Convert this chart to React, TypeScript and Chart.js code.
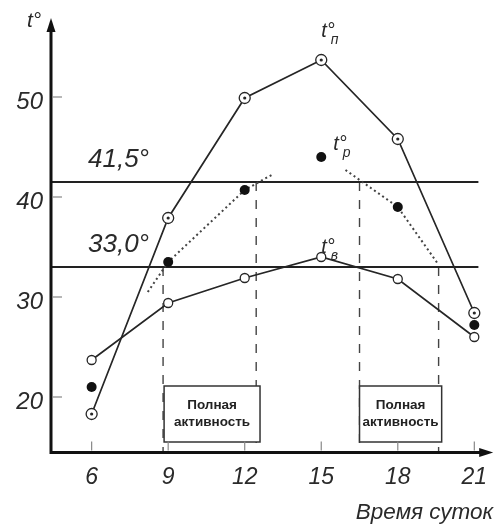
import React, { useEffect, useRef } from 'react';
import { Chart, registerables } from 'chart.js';

Chart.register(...registerables);

// Time of day (hours)
const hours = [6, 9, 12, 15, 18, 21];
// Surface temperature t°п
const tSurface = [18.3, 37.9, 49.9, 53.7, 45.8, 28.4];
// Air temperature t°в
const tAir = [23.7, 29.4, 31.9, 34.0, 31.8, 26.0];
// Body temperature t°р
const tBody = [21.0, 33.5, 40.7, 44.0, 39.0, 27.2];

// Dotted trend of t°р (rising and falling branches)
const trendRiseX = [8.2, 9, 12, 13.05];
const trendRiseY = [30.5, 33.5, 40.7, 42.2];
const trendFallX = [15.95, 18, 19.55];
const trendFallY = [42.7, 39.0, 33.4];

// Threshold temperatures
const thresholds = [41.5, 33.0];
const thresholdLabels = ['41,5°', '33,0°'];

// Vertical dashed markers (x, and threshold they start from)
const markerX = [8.8, 12.45, 16.5, 19.6];
const markerTop = [33.0, 41.5, 41.5, 33.0];

// Activity windows
const activityStart = [8.84, 16.5];
const activityEnd = [12.6, 19.72];
const activityText = ['Полная', 'активность'];

const xTicks = [6, 9, 12, 15, 18, 21];
const yTicks = [20, 30, 40, 50];
const xTitle = 'Время суток';
const yTitle = 't°';

const X_MIN = 4.407;
const X_MAX = 21.74;
const Y_MIN = 14.45;
const Y_MAX = 57.9;
const LINE_END = 21.16;
const BOX_TOP = 21.1;
const BOX_BOTTOM = 15.5;

const FONT = '"Liberation Sans", Arial, sans-serif';
const INK = '#262626';

export default function App() {
  const ref = useRef<HTMLCanvasElement>(null);

  useEffect(() => {
    const canvas = ref.current;
    if (!canvas) return;
    const pts = (xs: number[], ys: number[]) => xs.map((x, i) => ({ x, y: ys[i] }));

    const datasets: any[] = [
      {
        label: 'tSurfaceDots',
        data: pts(hours, tSurface),
        showLine: false,
        pointRadius: 1.6,
        pointBackgroundColor: INK,
        pointBorderWidth: 0,
      },
      {
        label: 'tBody',
        data: pts(hours, tBody),
        showLine: false,
        pointRadius: 5,
        pointBackgroundColor: '#111',
        pointBorderColor: '#111',
        pointBorderWidth: 0,
      },
      {
        label: 'tSurface',
        data: pts(hours, tSurface),
        borderColor: INK,
        borderWidth: 1.7,
        pointRadius: 5.5,
        pointBackgroundColor: '#fff',
        pointBorderColor: INK,
        pointBorderWidth: 1.3,
      },
      {
        label: 'tAir',
        data: pts(hours, tAir),
        borderColor: INK,
        borderWidth: 1.7,
        pointRadius: 4.5,
        pointBackgroundColor: '#fff',
        pointBorderColor: INK,
        pointBorderWidth: 1.3,
      },
      {
        label: 'trendRise',
        data: pts(trendRiseX, trendRiseY),
        borderColor: '#444',
        borderWidth: 2,
        borderDash: [2, 3],
        pointRadius: 0,
      },
      {
        label: 'trendFall',
        data: pts(trendFallX, trendFallY),
        borderColor: '#444',
        borderWidth: 2,
        borderDash: [2, 3],
        pointRadius: 0,
      },
      ...thresholds.map((t, i) => ({
        label: 'threshold' + i,
        data: [
          { x: X_MIN, y: t },
          { x: LINE_END, y: t },
        ],
        borderColor: '#222',
        borderWidth: 2,
        pointRadius: 0,
      })),
      ...markerX.map((mx, i) => ({
        label: 'marker' + i,
        data: [
          { x: mx, y: markerTop[i] },
          { x: mx, y: Y_MIN },
        ],
        borderColor: '#444',
        borderWidth: 1.4,
        borderDash: [9, 9],
        pointRadius: 0,
      })),
    ];

    const decor = {
      id: 'decor',
      afterDraw(chart: any) {
        const ctx = chart.ctx as CanvasRenderingContext2D;
        const xs = chart.scales.x;
        const ys = chart.scales.y;
        const ax = xs.getPixelForValue(X_MIN);
        const ay = ys.getPixelForValue(Y_MIN);
        const topY = ys.getPixelForValue(Y_MAX);
        const rightX = xs.getPixelForValue(X_MAX);
        ctx.save();

        // activity boxes
        activityStart.forEach((s, i) => {
          const x0 = xs.getPixelForValue(s);
          const x1 = xs.getPixelForValue(activityEnd[i]);
          const y0 = ys.getPixelForValue(BOX_TOP);
          const y1 = ys.getPixelForValue(BOX_BOTTOM);
          ctx.fillStyle = '#fff';
          ctx.fillRect(x0, y0, x1 - x0, y1 - y0);
          ctx.strokeStyle = '#333';
          ctx.lineWidth = 1.5;
          ctx.strokeRect(x0, y0, x1 - x0, y1 - y0);
          ctx.fillStyle = '#222';
          ctx.font = 'bold 13.5px ' + FONT;
          ctx.textAlign = 'center';
          ctx.textBaseline = 'alphabetic';
          const cx = (x0 + x1) / 2;
          ctx.fillText(activityText[0], cx, y0 + 23);
          ctx.fillText(activityText[1], cx, y0 + 40);
        });

        // tick marks
        ctx.strokeStyle = '#888';
        ctx.lineWidth = 1.2;
        yTicks.forEach((v) => {
          const y = ys.getPixelForValue(v);
          ctx.beginPath();
          ctx.moveTo(ax + 2, y);
          ctx.lineTo(ax + 11, y);
          ctx.stroke();
        });
        xTicks.forEach((v) => {
          const x = xs.getPixelForValue(v);
          ctx.beginPath();
          ctx.moveTo(x, ay - 2);
          ctx.lineTo(x, ay - 11);
          ctx.stroke();
        });

        // axes
        ctx.strokeStyle = '#111';
        ctx.fillStyle = '#111';
        ctx.lineWidth = 3;
        ctx.beginPath();
        ctx.moveTo(ax, ay + 1.5);
        ctx.lineTo(ax, topY + 12);
        ctx.moveTo(ax - 1.5, ay);
        ctx.lineTo(rightX - 12, ay);
        ctx.stroke();
        ctx.beginPath();
        ctx.moveTo(ax, topY);
        ctx.lineTo(ax - 4.5, topY + 14);
        ctx.lineTo(ax + 4.5, topY + 14);
        ctx.closePath();
        ctx.fill();
        ctx.beginPath();
        ctx.moveTo(rightX, ay);
        ctx.lineTo(rightX - 14, ay - 4.5);
        ctx.lineTo(rightX - 14, ay + 4.5);
        ctx.closePath();
        ctx.fill();

        // tick labels
        ctx.fillStyle = '#2a2a2a';
        ctx.font = 'italic 24px ' + FONT;
        ctx.textAlign = 'right';
        ctx.textBaseline = 'middle';
        yTicks.forEach((v) => {
          ctx.fillText(String(v), ax - 8, ys.getPixelForValue(v) + 5);
        });
        ctx.font = 'italic 23px ' + FONT;
        ctx.textAlign = 'center';
        xTicks.forEach((v) => {
          ctx.fillText(String(v), xs.getPixelForValue(v), ay + 25);
        });

        // axis titles
        ctx.font = 'italic 22.5px ' + FONT;
        ctx.textAlign = 'right';
        ctx.textBaseline = 'alphabetic';
        ctx.fillText(xTitle, rightX, ay + 66);
        ctx.textAlign = 'left';
        ctx.font = 'italic 21px ' + FONT;
        ctx.fillText(yTitle, ax - 24, topY + 9);

        // threshold labels
        ctx.font = 'italic 26px ' + FONT;
        ctx.textAlign = 'left';
        thresholds.forEach((t, i) => {
          ctx.fillText(thresholdLabels[i], ax + 37, ys.getPixelForValue(t) - 15);
        });

        // series labels
        const seriesLabel = (x: number, y: number, sub: string) => {
          ctx.font = 'italic 20px ' + FONT;
          ctx.textAlign = 'left';
          ctx.fillText('t°', x, y);
          const w = ctx.measureText('t°').width;
          ctx.font = 'italic 14px ' + FONT;
          ctx.fillText(sub, x + w - 4, y + 7);
        };
        const px = (v: number) => xs.getPixelForValue(v);
        const py = (v: number) => ys.getPixelForValue(v);
        seriesLabel(px(hours[3]), py(tSurface[3]) - 23, 'п');
        seriesLabel(px(hours[3]) + 12, py(tBody[3]) - 7, 'р');
        seriesLabel(px(hours[3]), py(tAir[3]) - 4, 'в');

        ctx.restore();
      },
    };

    const chart = new Chart(canvas, {
      type: 'line',
      data: { datasets },
      options: {
        responsive: false,
        animation: false,
        events: [],
        layout: { padding: { left: 51, right: 3, top: 18, bottom: 71.5 } },
        elements: { line: { tension: 0 } },
        plugins: { legend: { display: false }, tooltip: { enabled: false } },
        scales: {
          x: { type: 'linear', min: X_MIN, max: X_MAX, display: false },
          y: { type: 'linear', min: Y_MIN, max: Y_MAX, display: false },
        },
      },
      plugins: [decor],
    });
    return () => chart.destroy();
  }, []);

  return (
    <div style={{ position: 'fixed', left: 0, top: 0, width: 500, height: 524, background: '#fff' }}>
      <canvas ref={ref} width={500} height={524} style={{ display: 'block' }} />
    </div>
  );
}
